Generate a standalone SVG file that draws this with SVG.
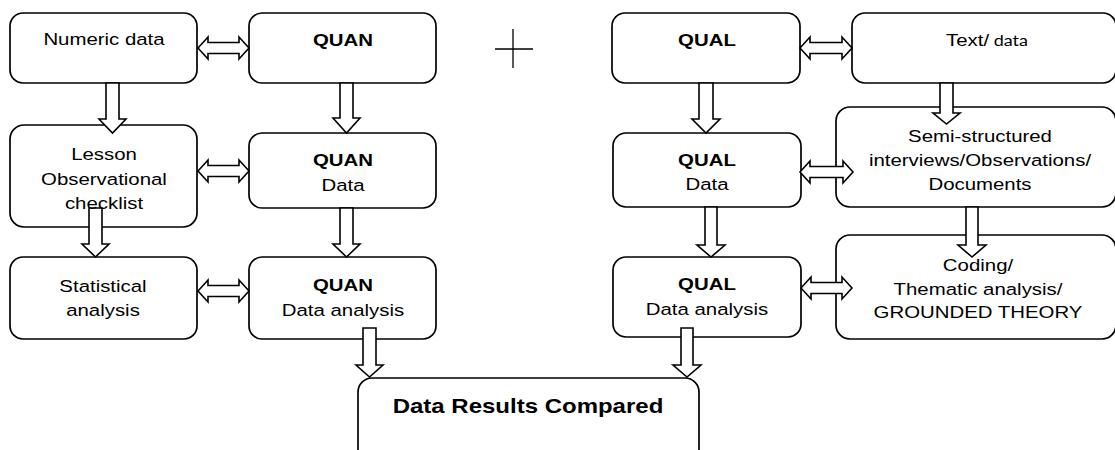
<svg xmlns="http://www.w3.org/2000/svg" width="1115" height="450" viewBox="0 0 1115 450">
<style>
.box{fill:#fff;stroke:#000;stroke-width:1.7}
.arr{fill:#fff;stroke:#000;stroke-width:1.6;stroke-linejoin:miter}
.t{font-family:"Liberation Sans",Arial,sans-serif;font-size:17px;text-anchor:middle;fill:#000}
.b{font-weight:bold}
.big{font-size:20px}
.plus{stroke:#000;stroke-width:1.3}
</style>
<rect width="1115" height="450" fill="#fff"/>
<g id="n-numeric"><rect class="box" x="10" y="13" width="187" height="70" rx="13"/>
<text class="t" transform="translate(104,45) scale(1.2,1)">Numeric data</text></g>
<g id="n-quan"><rect class="box" x="249" y="13" width="187" height="70" rx="13"/>
<text class="t b" transform="translate(343,46) scale(1.2,1)">QUAN</text></g>
<g id="n-qual"><rect class="box" x="612" y="13" width="188" height="70" rx="13"/>
<text class="t b" transform="translate(707,46) scale(1.2,1)">QUAL</text></g>
<g id="n-text"><rect class="box" x="852" y="13" width="264" height="70" rx="13"/>
<text class="t" transform="translate(987,46) scale(1.2,1)">Text/<tspan style="font-family:Lato,'Open Sans',sans-serif;font-size:15px"> data</tspan></text></g>
<g id="n-lesson"><rect class="box" x="10" y="125" width="187" height="102" rx="14"/>
<text class="t" transform="translate(104,160) scale(1.2,1)">Lesson</text>
<text class="t" transform="translate(104,185) scale(1.2,1)">Observational</text></g>
<g id="n-quandata"><rect class="box" x="249" y="133" width="187" height="75" rx="13"/>
<text class="t b" transform="translate(343,166) scale(1.2,1)">QUAN</text>
<text class="t" transform="translate(343,191) scale(1.2,1)">Data</text></g>
<g id="n-qualdata"><rect class="box" x="613" y="133" width="188" height="74" rx="13"/>
<text class="t b" transform="translate(707,166) scale(1.2,1)">QUAL</text>
<text class="t" transform="translate(707,190) scale(1.2,1)">Data</text></g>
<g id="n-semi"><rect class="box" x="836" y="107" width="280" height="100" rx="14"/>
<text class="t" transform="translate(980,142) scale(1.2,1)">Semi-structured</text>
<text class="t" transform="translate(980,166) scale(1.2,1)">interviews/Observations/</text>
<text class="t" transform="translate(980,190) scale(1.2,1)">Documents</text></g>
<g id="n-stat"><rect class="box" x="10" y="257" width="187" height="82" rx="13"/>
<text class="t" transform="translate(103,292) scale(1.2,1)">Statistical</text>
<text class="t" transform="translate(103,316) scale(1.2,1)">analysis</text></g>
<g id="n-quanda"><rect class="box" x="249" y="257" width="187" height="82" rx="13"/>
<text class="t b" transform="translate(343,291) scale(1.2,1)">QUAN</text>
<text class="t" transform="translate(343,316) scale(1.2,1)">Data analysis</text></g>
<g id="n-qualda"><rect class="box" x="613" y="257" width="188" height="80" rx="13"/>
<text class="t b" transform="translate(707,290) scale(1.2,1)">QUAL</text>
<text class="t" transform="translate(707,315) scale(1.2,1)">Data analysis</text></g>
<g id="n-coding"><rect class="box" x="836" y="235" width="280" height="104" rx="14"/>
<text class="t" transform="translate(978,318) scale(1.2,1)">GROUNDED THEORY</text>
<text class="t" transform="translate(978,295) scale(1.2,1)">Thematic analysis/</text></g>
<g id="n-results"><rect class="box" x="358" y="378" width="341" height="95" rx="14"/>
<text class="t b big" transform="translate(528,413) scale(1.2,1)">Data Results Compared</text></g>
<g id="plus"><line class="plus" x1="495" y1="49" x2="533" y2="49"/><line class="plus" x1="513" y1="29" x2="513" y2="68"/></g>
<g id="connectors">
<path class="arr" d="M106,83 H119 V119 H126 L112.5,133 L99,119 H106 Z"/>
<path class="arr" d="M340,83 H353 V118 H360 L346.5,133 L333,118 H340 Z"/>
<path class="arr" d="M89,208 H102 V244 H109 L95.5,257 L82,244 H89 Z"/>
<path class="arr" d="M340,208 H353 V244 H360 L346.5,257 L333,244 H340 Z"/>
<path class="arr" d="M363,328 H376 V365 H383 L369.5,377 L356,365 H363 Z"/>
<path class="arr" d="M681,328 H693 V365 H701 L687,377 L673,365 H681 Z"/>
<path class="arr" d="M699,83 H713 V119 H720 L706,133 L692,119 H699 Z"/>
<path class="arr" d="M940,83 H953 V113 H960 L946.5,124 L933,113 H940 Z"/>
<path class="arr" d="M966,207 H978 V245 H986 L972,257 L958,245 H966 Z"/>
<path class="arr" d="M705,207 H717 V245 H725 L711,257 L697,245 H705 Z"/>
<path class="arr" d="M198,48 L208,37 V42.5 H239 V37 L249,48 L239,59 V53.5 H208 V59 Z"/>
<path class="arr" d="M198,171 L208,160 V165.5 H239 V160 L249,171 L239,182 V176.5 H208 V182 Z"/>
<path class="arr" d="M198,291 L208,280 V285.5 H239 V280 L249,291 L239,302 V296.5 H208 V302 Z"/>
<path class="arr" d="M800,48 L810,37 V42.5 H842 V37 L852,48 L842,59 V53.5 H810 V59 Z"/>
<path class="arr" d="M800,172 L810,161 V166.5 H843 V161 L853,172 L843,183 V177.5 H810 V183 Z"/>
<path class="arr" d="M801,288 L811,277 V282.5 H842 V277 L852,288 L842,299 V293.5 H811 V299 Z"/>
</g>
<g id="n-lesson-label-over"><text class="t" transform="translate(104,209) scale(1.2,1)">checklist</text></g>
<g id="n-coding-label-over"><text class="t" transform="translate(978,271) scale(1.2,1)">Coding/</text></g>
</svg>
